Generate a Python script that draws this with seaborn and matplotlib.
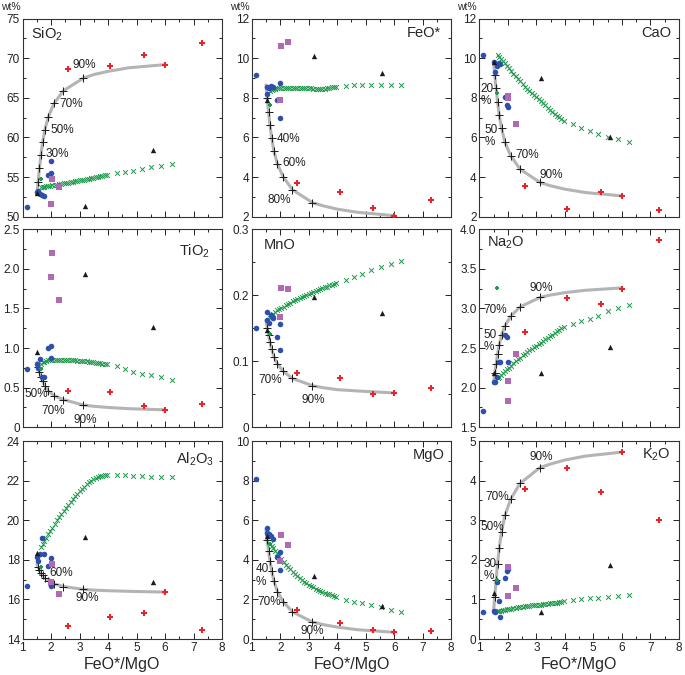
import pandas as pd
import seaborn as sns
import matplotlib.pyplot as plt
from matplotlib.ticker import MultipleLocator, FuncFormatter

sns.set_theme(style='ticks')
plt.rcParams['font.family'] = ['Liberation Sans', 'DejaVu Sans']
plt.rcParams['mathtext.default'] = 'regular'


# oxides shown, in panel order
oxides = ['SiO2', 'FeO', 'CaO', 'TiO2', 'MnO', 'Na2O', 'Al2O3', 'MgO', 'K2O']
titles = [r'SiO$_2$', 'FeO*', 'CaO', r'TiO$_2$', 'MnO', r'Na$_2$O', r'Al$_2$O$_3$', 'MgO', r'K$_2$O']

# FeO*/MgO of each sample group
blue_x = [1.14, 1.52, 1.55, 1.62, 1.68, 1.74, 1.90, 1.98, 2.00]
pink_x = [2.02, 2.29, 2.00]
black_x = [1.52, 3.18, 5.57]
red_x = [2.60, 4.08, 5.27, 6.00, 7.30]
green_x = [1.63]

blue_y = {
    'SiO2': [51.2, 53.1, 53.3, 52.9, 52.7, 52.6, 55.3, 55.5, 57.0],
    'FeO': [9.15, 8.2, 8.55, 8.5, 8.6, 8.55, 7.9, 8.75, 7.0],
    'CaO': [10.15, 9.8, 9.3, 9.6, 9.75, 9.7, 8.05, 7.65, 7.55],
    'TiO2': [0.74, 0.80, 0.75, 0.86, 0.63, 0.63, 1.00, 1.03, 0.88],
    'MnO': [0.151, 0.174, 0.163, 0.158, 0.170, 0.165, 0.137, 0.157, 0.117],
    'Na2O': [1.71, 2.07, 2.07, 2.14, 2.33, 2.33, 2.66, 2.64, 2.33],
    'Al2O3': [16.7, 18.15, 17.95, 18.3, 19.1, 18.3, 17.7, 18.1, 16.7],
    'MgO': [8.1, 5.63, 5.36, 5.29, 5.21, 5.04, 4.13, 4.4, 3.5],
    'K2O': [0.68, 0.70, 0.69, 1.45, 0.97, 0.55, 1.54, 1.73, 1.76],
}
pink_y = {
    'SiO2': [54.8, 53.8, 51.6], 'FeO': [10.6, 10.8, 7.9], 'CaO': [8.1, 6.7, 8.0],
    'TiO2': [2.2, 1.61, 1.9], 'MnO': [0.211, 0.210, 0.167], 'Na2O': [1.83, 2.42, 2.09],
    'Al2O3': [17.8, 16.25, 16.9], 'MgO': [5.24, 4.75, 3.95], 'K2O': [1.82, 1.30, 1.08],
}
black_y = {
    'SiO2': [53.0, 51.4, 58.4], 'FeO': [7.9, 10.13, 9.24], 'CaO': [9.8, 9.0, 6.04],
    'TiO2': [0.95, 1.93, 1.27], 'MnO': [0.148, 0.197, 0.173], 'Na2O': [2.18, 2.18, 2.52],
    'Al2O3': [18.33, 19.17, 16.86], 'MgO': [5.18, 3.19, 1.68], 'K2O': [1.15, 0.67, 1.87],
}
red_y = {
    'SiO2': [68.6, 69.0, 70.4, 69.2, 71.9], 'FeO': [3.72, 3.27, 2.45, 2.05, 2.85],
    'CaO': [3.55, 2.37, 3.27, 3.05, 2.33], 'TiO2': [0.46, 0.44, 0.27, 0.22, 0.30],
    'MnO': [0.083, 0.074, 0.050, 0.052, 0.060], 'Na2O': [2.70, 3.13, 3.06, 3.25, 3.86],
    'Al2O3': [14.66, 15.12, 15.33, 16.37, 14.45], 'MgO': [1.46, 0.82, 0.47, 0.34, 0.39],
    'K2O': [3.80, 4.32, 3.71, 4.72, 3.01],
}
green_y = {
    'SiO2': [54.8], 'FeO': [7.66], 'CaO': [8.26], 'TiO2': [0.73], 'MnO': [0.141],
    'Na2O': [3.26], 'Al2O3': [17.65], 'MgO': [4.79], 'K2O': [1.50],
}

# crystallization model (green crosses)
model_x = [1.64, 1.70, 1.76, 1.83, 1.90, 1.97, 2.04, 2.12, 2.20, 2.28, 2.36, 2.44, 2.52,
           2.60, 2.68, 2.76, 2.84, 2.92, 3.00, 3.08, 3.16, 3.24, 3.32, 3.40, 3.48, 3.56,
           3.64, 3.72, 3.80, 3.88, 3.96, 4.30, 4.58, 4.88, 5.17, 5.52, 5.87, 6.25]
model_y = {
    'SiO2': [53.70, 53.74, 53.78, 53.82, 53.86, 53.90, 53.94, 53.99, 54.04, 54.09, 54.14,
             54.19, 54.24, 54.29, 54.35, 54.40, 54.46, 54.51, 54.57, 54.62, 54.68, 54.74,
             54.80, 54.86, 54.92, 54.98, 55.04, 55.10, 55.16, 55.22, 55.28,
             55.47, 55.64, 55.81, 56.02, 56.23, 56.44, 56.65],
    'FeO': [8.36, 8.40, 8.44, 8.47, 8.49, 8.50, 8.51, 8.51, 8.51, 8.51, 8.51, 8.51, 8.51,
            8.50, 8.50, 8.50, 8.49, 8.49, 8.48, 8.48, 8.47, 8.46, 8.45, 8.45, 8.46, 8.47,
            8.49, 8.51, 8.53, 8.55, 8.57, 8.60, 8.63, 8.63, 8.63, 8.67, 8.66, 8.66],
    'CaO': [10.15, 10.05, 9.95, 9.85, 9.74, 9.62, 9.50, 9.36, 9.22, 9.09, 8.96, 8.83, 8.70,
            8.57, 8.45, 8.34, 8.24, 8.14, 8.05, 7.94, 7.83, 7.72, 7.62, 7.51, 7.40, 7.30,
            7.20, 7.11, 7.02, 6.94, 6.85, 6.66, 6.49, 6.34, 6.19, 6.04, 5.92, 5.79],
    'TiO2': [0.80, 0.82, 0.83, 0.84, 0.845, 0.85, 0.85, 0.85, 0.85, 0.85, 0.85, 0.85, 0.85,
             0.85, 0.848, 0.846, 0.844, 0.842, 0.840, 0.837, 0.834, 0.831, 0.828, 0.825,
             0.821, 0.817, 0.813, 0.809, 0.805, 0.800, 0.795,
             0.77, 0.735, 0.70, 0.67, 0.655, 0.63, 0.60],
    'MnO': [0.166, 0.169, 0.172, 0.175, 0.177, 0.179, 0.181, 0.183, 0.185, 0.187, 0.189,
            0.191, 0.193, 0.194, 0.196, 0.197, 0.199, 0.200, 0.202, 0.203, 0.205, 0.206,
            0.208, 0.209, 0.211, 0.212, 0.213, 0.215, 0.216, 0.217, 0.219,
            0.223, 0.228, 0.233, 0.238, 0.243, 0.248, 0.252],
    'Na2O': [2.12, 2.14, 2.16, 2.18, 2.21, 2.23, 2.25, 2.28, 2.31, 2.34, 2.36, 2.38, 2.41,
             2.43, 2.45, 2.47, 2.49, 2.51, 2.53, 2.55, 2.57, 2.59, 2.61, 2.63, 2.65, 2.67,
             2.69, 2.71, 2.73, 2.75, 2.77, 2.80, 2.84, 2.87, 2.91, 2.97, 3.00, 3.04],
    'Al2O3': [18.65, 18.80, 18.95, 19.12, 19.28, 19.45, 19.63, 19.82, 20.00, 20.17, 20.33,
              20.49, 20.64, 20.79, 20.94, 21.08, 21.22, 21.35, 21.47, 21.59, 21.70, 21.81,
              21.91, 22.00, 22.07, 22.13, 22.18, 22.21, 22.24, 22.26, 22.27,
              22.28, 22.28, 22.25, 22.23, 22.20, 22.20, 22.16],
    'MgO': [4.82, 4.70, 4.58, 4.45, 4.32, 4.18, 4.02, 3.88, 3.75, 3.63, 3.52, 3.40, 3.29,
            3.18, 3.08, 2.99, 2.90, 2.82, 2.75, 2.68, 2.61, 2.55, 2.49, 2.43, 2.38, 2.33,
            2.29, 2.25, 2.21, 2.17, 2.13, 1.98, 1.88, 1.80, 1.70, 1.60, 1.48, 1.38],
    'K2O': [0.70, 0.71, 0.72, 0.73, 0.74, 0.75, 0.76, 0.77, 0.78, 0.79, 0.80, 0.81, 0.82,
            0.83, 0.83, 0.84, 0.85, 0.85, 0.86, 0.87, 0.87, 0.88, 0.89, 0.89, 0.90, 0.91,
            0.91, 0.92, 0.93, 0.94, 0.95, 0.99, 1.02, 1.03, 1.04, 1.06, 1.09, 1.11],
}

# mixing curve (grey line), black + marks at 10 % ... 90 %
mix_x = [1.50, 1.54, 1.59, 1.64, 1.70, 1.78, 1.90, 2.10, 2.43, 3.13, 3.50, 4.00, 4.72, 6.00]
mix_y = {
    'SiO2': [52.8, 54.4, 56.1, 57.8, 59.4, 61.0, 62.6, 64.3, 65.9, 67.5, 67.95, 68.35, 68.8, 69.2],
    'FeO': [8.65, 7.99, 7.30, 6.62, 5.96, 5.30, 4.67, 4.02, 3.36, 2.71, 2.55, 2.38, 2.22, 2.05],
    'CaO': [9.85, 9.15, 8.48, 7.81, 7.12, 6.47, 5.76, 5.08, 4.40, 3.73, 3.56, 3.39, 3.22, 3.05],
    'TiO2': [0.82, 0.76, 0.70, 0.64, 0.58, 0.52, 0.46, 0.40, 0.35, 0.28, 0.265, 0.25, 0.235, 0.22],
    'MnO': [0.162, 0.151, 0.140, 0.129, 0.118, 0.107, 0.096, 0.085, 0.074, 0.063, 0.060, 0.057, 0.055, 0.052],
    'Na2O': [2.06, 2.18, 2.30, 2.42, 2.54, 2.66, 2.78, 2.90, 3.02, 3.14, 3.17, 3.20, 3.23, 3.26],
    'Al2O3': [17.77, 17.63, 17.49, 17.35, 17.21, 17.07, 16.93, 16.79, 16.65, 16.51, 16.47, 16.44, 16.41, 16.37],
    'MgO': [5.50, 4.98, 4.47, 3.95, 3.44, 2.92, 2.40, 1.89, 1.37, 0.86, 0.73, 0.60, 0.47, 0.34],
    'K2O': [0.66, 1.07, 1.48, 1.89, 2.30, 2.71, 3.12, 3.53, 3.93, 4.33, 4.42, 4.52, 4.62, 4.72],
}

# percentage labels on the mixing curve: (text, x, y)
pct_labels = {
    'SiO2': [('90%', 2.76, 69.1), ('70%', 2.29, 64.2), ('50%', 1.99, 60.9), ('30%', 1.81, 57.9)],
    'FeO': [('40%', 1.87, 5.9), ('60%', 2.08, 4.7), ('80%', 1.56, 2.84)],
    'CaO': [('20\n%', 1.03, 8.15), ('50\n%', 1.19, 6.08), ('70%', 2.28, 5.11), ('90%', 3.11, 4.1)],
    'TiO2': [('50%', 1.08, 0.42), ('70%', 1.67, 0.21), ('90%', 2.80, 0.09)],
    'MnO': [('70%', 1.23, 0.072), ('90%', 2.76, 0.041)],
    'Na2O': [('90%', 2.75, 3.26), ('70%', 1.14, 2.98), ('50\n%', 1.14, 2.59)],
    'Al2O3': [('60%', 1.94, 17.35), ('90%', 2.87, 16.05)],
    'MgO': [('40\n%', 1.14, 3.2), ('70%', 1.18, 1.85), ('90%', 2.70, 0.39)],
    'K2O': [('90%', 2.76, 4.6), ('70%', 1.20, 3.59), ('50%', 1.05, 2.83), ('30\n%', 1.14, 1.75)],
}

ylims = [(50, 75), (2, 12), (2, 12), (0, 2.5), (0, 0.3), (1.5, 4.0), (14, 24), (0, 10), (0, 5)]
ymajor = [5, 2, 2, 0.5, 0.1, 0.5, 2, 2, 1]
ydec = [0, 0, 0, 1, 1, 1, 0, 0, 0]
title_pos = [(0.04, 0.92, 'left'), (0.95, 0.93, 'right'), (0.96, 0.93, 'right'),
             (0.94, 0.89, 'right'), (0.06, 0.92, 'left'), (0.04, 0.93, 'left'),
             (0.96, 0.91, 'right'), (0.965, 0.93, 'right'), (0.96, 0.93, 'right')]

blue = '#2f4fae'
pink = '#b06ab4'
red = '#ec2226'
green = '#1f9a4c'
grey = '#b4b4b4'

fig, axes = plt.subplots(3, 3, figsize=(6.85, 6.75), dpi=100)
lefts = [0.0331, 0.3675, 0.6997]
bottoms = [0.679, 0.367, 0.0533]

for i, ox in enumerate(oxides):
    r, c = divmod(i, 3)
    ax = axes[r, c]
    ax.set_position([lefts[c], bottoms[r], 0.2912, 0.2933])

    sns.lineplot(x=mix_x, y=mix_y[ox], sort=False, color=grey, lw=2.2, ax=ax, zorder=1)
    sns.scatterplot(x=model_x, y=model_y[ox], marker='x', color=green, s=12,
                    linewidth=0.7, ax=ax, zorder=2)
    sns.scatterplot(x=mix_x[1:10], y=mix_y[ox][1:10], marker='+', color='k', s=30,
                    linewidth=0.7, ax=ax, zorder=3)
    sns.scatterplot(x=blue_x, y=blue_y[ox], marker='o', color=blue, s=16, linewidth=0,
                    ax=ax, zorder=4)
    sns.scatterplot(x=pink_x, y=pink_y[ox], marker='s', color=pink, s=16, linewidth=0,
                    ax=ax, zorder=4)
    sns.scatterplot(x=black_x, y=black_y[ox], marker='^', color='k', s=15, linewidth=0,
                    ax=ax, zorder=4)
    sns.scatterplot(x=red_x, y=red_y[ox], marker='P', color=red, s=24, linewidth=0,
                    ax=ax, zorder=4)
    sns.scatterplot(x=green_x, y=green_y[ox], marker='P', color=green, s=12, linewidth=0,
                    ax=ax, zorder=5)

    for txt, tx, ty in pct_labels[ox]:
        ax.text(tx, ty, txt, fontsize=8.5, ha='left', va='center', linespacing=1.05,
                color='#222222', zorder=6)

    px, py, ha = title_pos[i]
    ax.text(px, py, titles[i], transform=ax.transAxes, fontsize=10.5, ha=ha, va='center')

    ax.set_xlim(1, 8)
    ax.set_ylim(*ylims[i])
    ax.xaxis.set_major_locator(MultipleLocator(1))
    ax.xaxis.set_minor_locator(MultipleLocator(0.5))
    ax.yaxis.set_major_locator(MultipleLocator(ymajor[i]))
    ax.yaxis.set_minor_locator(MultipleLocator(ymajor[i] / 2))
    d = ydec[i]
    ax.yaxis.set_major_formatter(FuncFormatter(
        lambda v, p, d=d: '0' if abs(v) < 1e-9 else f'{v:.{d}f}'))
    ax.tick_params(which='both', direction='in', top=True, right=True,
                   labelsize=8.5, width=0.7, pad=2, colors='#222222')
    ax.tick_params(which='major', length=4)
    ax.tick_params(which='minor', length=2)
    for s in ax.spines.values():
        s.set_linewidth(0.8)
        s.set_color('#333333')

    if r == 2:
        ax.set_xlabel('FeO*/MgO', fontsize=11.5, labelpad=2)
    else:
        ax.set_xlabel('')
        ax.tick_params(labelbottom=False)
    ax.set_ylabel('')
    if r == 0:
        ax.text(-0.011, 1.06, 'wt%', transform=ax.transAxes, fontsize=7.5,
                ha='right', va='center')

fig.savefig('out.png', dpi=100)
